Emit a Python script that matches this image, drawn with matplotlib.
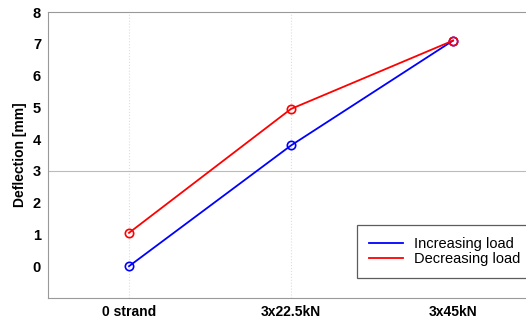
import matplotlib
matplotlib.use("Agg")
import matplotlib.pyplot as plt
from matplotlib.lines import Line2D

categories = ["0 strand", "3x22.5kN", "3x45kN"]
increasing = [0.0, 3.8, 7.1]
decreasing = [1.05, 4.95, 7.1]

plt.rcParams["font.family"] = ["Liberation Sans", "DejaVu Sans"]

fig = plt.figure(figsize=(5.26, 3.2), dpi=100)
# axes extends slightly past the right edge (cropped like the original)
ax = fig.add_axes([48 / 526, 22 / 320, 486 / 526, 286 / 320])

x = list(range(len(categories)))
ax.plot(x, increasing, color="#0000ff", lw=1.3, marker="o", ms=6,
        mfc="none", mew=1.2)
ax.plot(x, decreasing, color="#ff0000", lw=1.3, marker="o", ms=6,
        mfc="none", mew=1.2)

ax.set_xlim(-0.5, 2.5)
ax.set_ylim(-1, 8)
ax.set_yticks(range(0, 9))
ax.set_xticks(x)
ax.set_xticklabels(categories, fontweight="bold", fontsize=10)
for t in ax.get_yticklabels():
    t.set_fontweight("bold")
    t.set_fontsize(10.5)
ax.tick_params(length=0, pad=5)

# faint grid as in the scanned figure
for xi in x[:2]:
    ax.axvline(xi, color="#dddddd", lw=0.8, ls=":", zorder=0)
ax.axhline(3, color="#bbbbbb", lw=0.8, zorder=0)

for side in ("left", "top", "bottom"):
    ax.spines[side].set_color("#999999")
    ax.spines[side].set_linewidth(0.8)
ax.spines["right"].set_visible(False)

ax.set_ylabel("Deflection [mm]", fontweight="bold", fontsize=10, labelpad=4)

handles = [Line2D([], [], color="#0000ff", lw=1.3),
           Line2D([], [], color="#ff0000", lw=1.3)]
leg = ax.legend(handles, ["Increasing load", "Decreasing load"],
                loc="upper left", bbox_to_anchor=(350 / 526, 1 - 218 / 320),
                bbox_transform=fig.transFigure, fontsize=10.5, frameon=True,
                fancybox=False, edgecolor="#333333", handlelength=2.3,
                borderpad=0.8, labelspacing=0.1, handletextpad=0.8)
leg.get_frame().set_linewidth(0.9)

fig.savefig("out.png", dpi=100)
